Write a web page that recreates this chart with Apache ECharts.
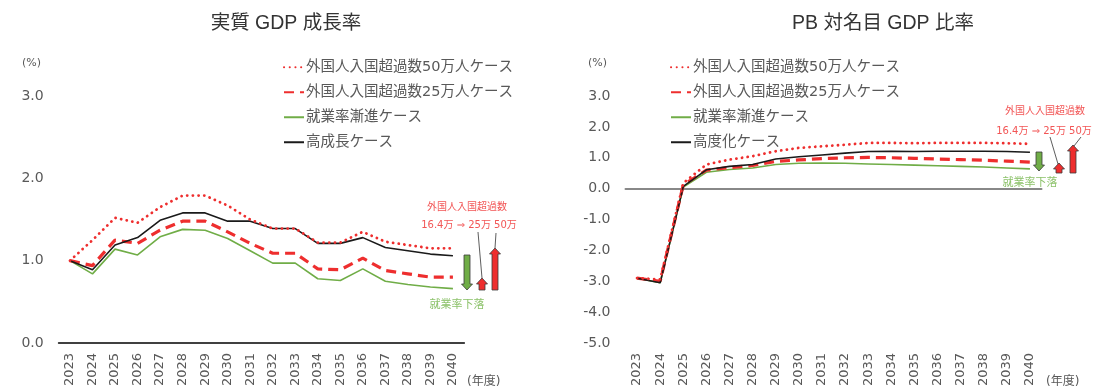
<!DOCTYPE html>
<html><head><meta charset="utf-8">
<script src="https://cdn.jsdelivr.net/npm/echarts@6/dist/echarts.min.js"></script>
<style>html,body{margin:0;padding:0;background:#fff}#c{width:1103px;height:390px}</style>
</head><body><div id="c"></div>
<script>
const years = ['2023','2024','2025','2026','2027','2028','2029','2030','2031','2032','2033','2034','2035','2036','2037','2038','2039','2040'];
const names = ['外国人入国超過数50万人ケース','外国人入国超過数25万人ケース','就業率漸進ケース','高成長ケース','高度化ケース'];
const titles = ['実質 GDP 成長率','PB 対名目 GDP 比率'];
const leftTicks = [0,1,2,3];
const rightTicks = [-5,-4,-3,-2,-1,0,1,2,3];
// 実質GDP成長率 (%)
const gdp50 = [1.00,1.25,1.52,1.46,1.65,1.79,1.79,1.67,1.50,1.39,1.39,1.22,1.22,1.35,1.23,1.19,1.15,1.15];
const gdp25 = [1.00,0.94,1.25,1.21,1.37,1.48,1.48,1.35,1.21,1.09,1.09,0.90,0.89,1.03,0.88,0.84,0.80,0.80];
const gdpEmp = [1.00,0.84,1.14,1.07,1.29,1.38,1.37,1.27,1.12,0.97,0.97,0.78,0.76,0.90,0.75,0.71,0.68,0.66];
const gdpHigh = [1.00,0.89,1.19,1.28,1.49,1.58,1.58,1.48,1.48,1.39,1.39,1.21,1.21,1.28,1.16,1.12,1.08,1.06];
// PB対名目GDP比率 (%)
const pb50 = [-2.90,-2.94,0.18,0.78,0.94,1.05,1.21,1.32,1.37,1.42,1.48,1.48,1.47,1.48,1.48,1.48,1.47,1.45];
const pb25 = [-2.90,-3.00,0.12,0.60,0.68,0.75,0.88,0.93,0.97,1.00,1.01,1.00,0.98,0.96,0.94,0.92,0.89,0.86];
const pbEmp = [-2.90,-3.05,0.05,0.53,0.62,0.67,0.78,0.82,0.83,0.82,0.80,0.78,0.76,0.74,0.72,0.70,0.67,0.64];
const pbHigh = [-2.90,-3.05,0.07,0.61,0.72,0.78,0.96,1.03,1.09,1.15,1.20,1.21,1.20,1.21,1.21,1.21,1.20,1.18];

const FONT = '"DejaVu Sans","Noto Sans CJK JP",sans-serif';
const RED = '#EE2E2E', GREEN = '#70AD47', BLACK = '#1a1a1a';
const ANN_RED = '#F25555', ANN_GREEN = '#8CC26A';
const TXT = '#595959';

const styles = [
  {color: RED, width: 2.8, type: [0.1, 5.6], cap: 'round'},
  {color: RED, width: 3.2, type: [10, 6]},
  {color: GREEN, width: 1.6, type: 'solid'},
  {color: BLACK, width: 1.6, type: 'solid'}
];
function mk(name, data, st, xi, yi) {
  return {name, type: 'line', data, xAxisIndex: xi, yAxisIndex: yi, symbol: 'none', smooth: false,
    lineStyle: {color: st.color, width: st.width, type: st.type, cap: st.cap || 'butt'},
    itemStyle: {color: st.color}, z: 5};
}
function arrow(x, yTop, yBot, up, color) {
  const sw = 3, hw = 5.5, hh = 6;
  let pts;
  if (up) pts = [[x-sw,yBot],[x-sw,yTop+hh],[x-hw,yTop+hh],[x,yTop],[x+hw,yTop+hh],[x+sw,yTop+hh],[x+sw,yBot]];
  else pts = [[x-sw,yTop],[x-sw,yBot-hh],[x-hw,yBot-hh],[x,yBot],[x+hw,yBot-hh],[x+sw,yBot-hh],[x+sw,yTop]];
  return {type: 'polygon', shape: {points: pts}, style: {fill: color, stroke: '#3a3a3a', lineWidth: 0.8}, z: 10};
}
function txt(x, y, s, size, color, align) {
  return {type: 'text', x, y, style: {text: s, font: size + 'px ' + FONT, fill: color, align: align || 'left', verticalAlign: 'middle'}, z: 10};
}
function line(x1, y1, x2, y2) {
  return {type: 'line', shape: {x1, y1, x2, y2}, style: {stroke: '#333', lineWidth: 0.8}, z: 10};
}

const yLabel = {color: TXT, fontSize: 14, fontFamily: FONT, margin: 15, formatter: v => v.toFixed(1)};
const xLabel = {color: TXT, fontSize: 13, fontFamily: FONT, rotate: 90, margin: 10, interval: 0};
const legendBase = {orient: 'vertical', top: 60, padding: 0, itemWidth: 20, itemHeight: 14, itemGap: 10.5,
  itemStyle: {opacity: 0}, textStyle: {color: TXT, fontSize: 14.5, fontFamily: FONT, padding: [0, 0, 0, -3]}, selectedMode: false};

const option = {
  animation: false,
  backgroundColor: '#fff',
  title: [
    {text: titles[0], left: 281, top: 9, textAlign: 'center', textStyle: {fontSize: 19.5, fontWeight: 'normal', color: '#333', fontFamily: '"Liberation Sans","Noto Sans CJK JP",sans-serif'}},
    {text: titles[1], left: 878, top: 9, textAlign: 'center', textStyle: {fontSize: 19.5, fontWeight: 'normal', color: '#333', fontFamily: '"Liberation Sans","Noto Sans CJK JP",sans-serif'}}
  ],
  legend: [
    Object.assign({}, legendBase, {left: 283, data: [names[0], names[1], names[2], names[3]]}),
    Object.assign({}, legendBase, {left: 670, data: [names[0], names[1], names[2], names[4]]})
  ],
  grid: [
    {left: 58.7, width: 405.5, top: 96, bottom: 47},
    {left: 625.5, width: 416, top: 96, bottom: 47}
  ],
  xAxis: [
    {type: 'category', gridIndex: 0, data: years, boundaryGap: true,
      axisLine: {show: true, lineStyle: {color: '#404040', width: 1.8}}, axisTick: {show: false}, axisLabel: xLabel},
    {type: 'category', gridIndex: 1, data: years, boundaryGap: true, position: 'bottom',
      axisLine: {show: false, onZero: false}, axisTick: {show: false}, axisLabel: xLabel},
    {type: 'category', gridIndex: 1, data: years, boundaryGap: true, position: 'bottom',
      axisLine: {show: true, onZero: true, lineStyle: {color: '#888', width: 2}}, axisTick: {show: false}, axisLabel: {show: false}}
  ],
  yAxis: [
    {type: 'value', gridIndex: 0, min: leftTicks[0], max: leftTicks[leftTicks.length-1], interval: 1,
      axisLine: {show: false}, axisTick: {show: false}, splitLine: {show: false}, axisLabel: yLabel},
    {type: 'value', gridIndex: 1, min: rightTicks[0], max: rightTicks[rightTicks.length-1], interval: 1,
      axisLine: {show: false}, axisTick: {show: false}, splitLine: {show: false}, axisLabel: yLabel}
  ],
  series: [
    mk(names[2], gdpEmp, styles[2], 0, 0),
    mk(names[1], gdp25, styles[1], 0, 0),
    mk(names[3], gdpHigh, styles[3], 0, 0),
    mk(names[0], gdp50, styles[0], 0, 0),
    mk(names[2], pbEmp, styles[2], 1, 1),
    mk(names[1], pb25, styles[1], 1, 1),
    mk(names[4], pbHigh, styles[3], 1, 1),
    mk(names[0], pb50, styles[0], 1, 1)
  ],
  graphic: [
    txt(22, 63, '(%)', 11, TXT),
    txt(588, 63, '(%)', 11, TXT),
    txt(467, 382, '(年度)', 12, TXT),
    txt(1046, 382, '(年度)', 12, TXT),
    // left annotations
    txt(467, 207, '外国人入国超過数', 10, ANN_RED, 'center'),
    txt(469, 225, '16.4万 ⇒ 25万 50万', 10, ANN_RED, 'center'),
    txt(457, 305, '就業率下落', 11, ANN_GREEN, 'center'),
    line(478, 232, 482, 278),
    line(496, 233, 495, 248),
    arrow(467, 255, 290, false, GREEN),
    arrow(482, 278, 290, true, RED),
    arrow(495, 248, 290, true, RED),
    // right annotations
    txt(1045, 111, '外国人入国超過数', 10, ANN_RED, 'center'),
    txt(1044, 131, '16.4万 ⇒ 25万 50万', 10, ANN_RED, 'center'),
    txt(1030, 183, '就業率下落', 11, ANN_GREEN, 'center'),
    line(1050, 137, 1058, 164),
    line(1081, 137, 1074, 146),
    arrow(1039, 152, 171, false, GREEN),
    arrow(1059, 163, 173, true, RED),
    arrow(1073, 145, 173, true, RED)
  ]
};
const chart = echarts.init(document.getElementById('c'), null, {renderer: 'canvas'});
chart.setOption(option);
</script></body></html>
